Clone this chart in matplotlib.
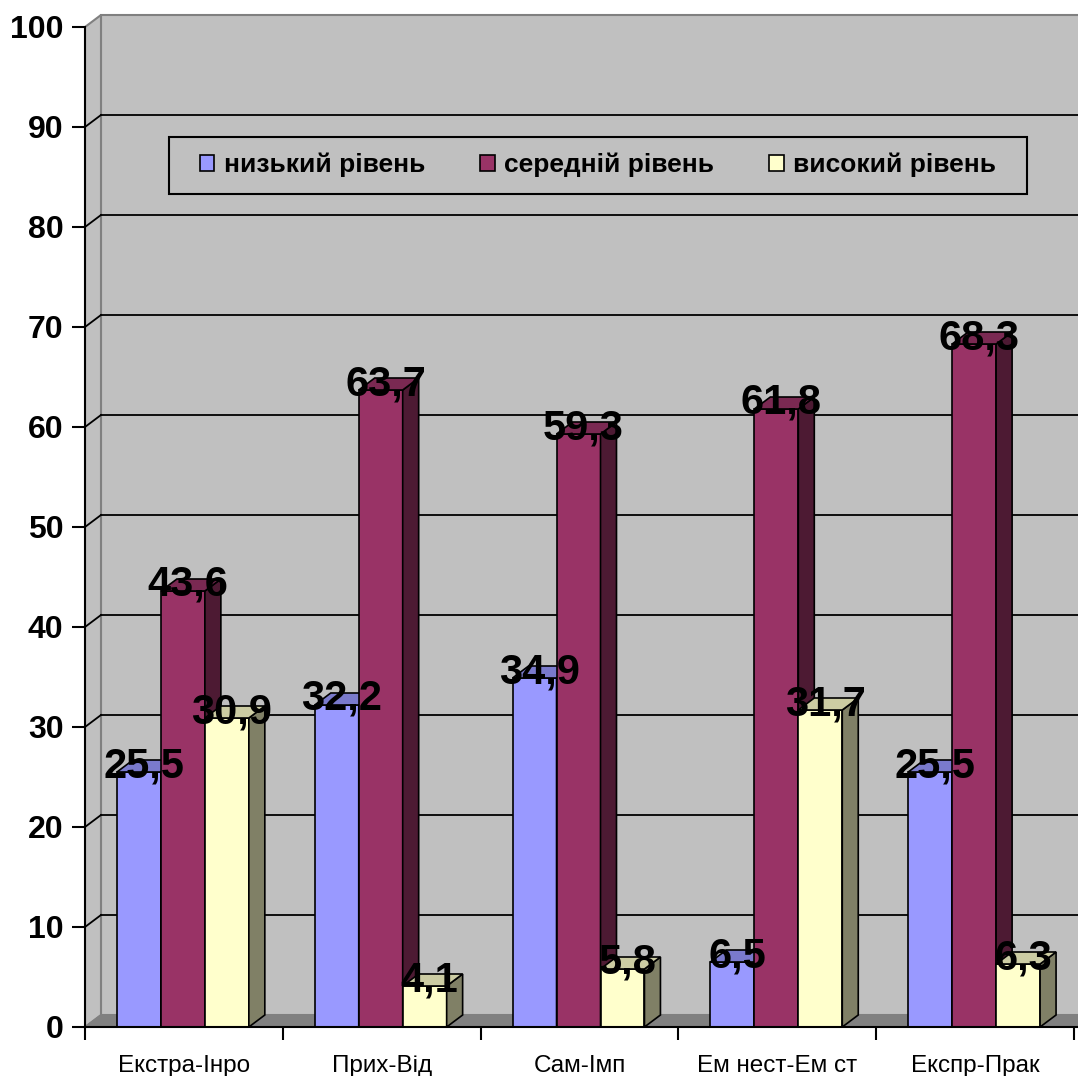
import matplotlib
matplotlib.use("Agg")
import matplotlib.pyplot as plt
from matplotlib.patches import Rectangle, Polygon, Patch
from matplotlib.colors import to_rgb

plt.rcParams["font.family"] = ["Liberation Sans", "DejaVu Sans"]

# data
categories = ["Екстра-Інро", "Прих-Від", "Сам-Імп", "Ем нест-Ем ст", "Експр-Прак"]
series_names = ["низький рівень", "середній рівень", "високий рівень"]
low = [25.5, 32.2, 34.9, 6.5, 25.5]
mid = [43.6, 63.7, 59.3, 61.8, 68.3]
high = [30.9, 4.1, 5.8, 31.7, 6.3]
colors = ["#9999FF", "#993366", "#FFFFCC"]

# pseudo-3d geometry (data units; 1 category = 1.0 on x)
DX = 16 / 198
DY = 1.2
GAP = 32 / 198
BW = 44 / 198
XMAX = 5.02
WALL = "#C0C0C0"
EDGE = "#808080"


def shade(c, f):
    r, g, b = to_rgb(c)
    return (r * f, g * f, b * f)


fig = plt.figure(figsize=(10.78, 10.76), dpi=100)
ax = fig.add_axes([85 / 1078, 49 / 1076, (1078 - 85) / 1078, 1020 / 1076])
ax.set_xlim(0, XMAX)
ax.set_ylim(0, 102)
ax.patch.set_visible(False)

# walls and floor
ax.add_patch(Rectangle((DX, DY), 6, 100, facecolor=WALL, edgecolor=EDGE, lw=1.5, zorder=0))
ax.add_patch(Polygon([(0, 0), (DX, DY), (DX, 100 + DY), (0, 100)], closed=True,
                     facecolor=WALL, edgecolor=EDGE, lw=1.5, zorder=0))
ax.add_patch(Polygon([(0, 0), (DX, DY), (6, DY), (6, 0)], closed=True,
                     facecolor=EDGE, edgecolor=EDGE, lw=1.0, zorder=0.5))

# gridlines on the back wall and side wall
for g in range(10, 100, 10):
    ax.plot([DX, 6], [g + DY, g + DY], color="black", lw=1.3, zorder=1)
    ax.plot([0, DX], [g, g + DY], color="black", lw=1.3, zorder=1)

# bars
for i in range(len(categories)):
    for j, vals in enumerate([low, mid, high]):
        v = vals[i]
        x0 = i + GAP + j * BW
        x1 = x0 + BW
        c = colors[j]
        z = 2 + i * 0.1 + j * 0.01
        ax.add_patch(Rectangle((x0, 0), BW, v, facecolor=c, edgecolor="black", lw=1.2, zorder=z))
        ax.add_patch(Polygon([(x1, 0), (x1 + DX, DY), (x1 + DX, v + DY), (x1, v)], closed=True,
                             facecolor=shade(c, 0.5), edgecolor="black", lw=1.2, zorder=z))
        ax.add_patch(Polygon([(x0, v), (x0 + DX, v + DY), (x1 + DX, v + DY), (x1, v)], closed=True,
                             facecolor=shade(c, 0.8), edgecolor="black", lw=1.2, zorder=z))
        ax.text(x0 + BW / 2 + DX * 0.3, v - 0.5, f"{v:.1f}".replace(".", ","),
                ha="center", va="baseline", fontsize=30, fontweight="bold",
                color="black", zorder=10)

# axes styling
for s in ["top", "right"]:
    ax.spines[s].set_visible(False)
ax.spines["left"].set_bounds(0, 100)
ax.spines["left"].set_linewidth(1.5)
ax.spines["bottom"].set_linewidth(1.5)
ax.spines["left"].set_zorder(3)
ax.spines["bottom"].set_zorder(3)

ax.set_yticks(range(0, 101, 10))
ax.set_yticklabels([str(t) for t in range(0, 101, 10)], fontsize=23, fontweight="bold")
ax.tick_params(axis="y", direction="out", length=9.5, width=1.5, pad=6)

ax.set_xticks(range(0, 6))
ax.set_xticklabels([])
ax.set_xticks([i + 0.5 for i in range(5)], minor=True)
ax.set_xticklabels(categories, minor=True, fontsize=17.5)
ax.tick_params(axis="x", which="major", direction="out", length=9.5, width=1.5)
ax.tick_params(axis="x", which="minor", length=0, pad=20)

# legend
handles = [Patch(facecolor=c, edgecolor="black", lw=1.2) for c in colors]
leg = fig.legend(handles, series_names, ncol=3, loc="center",
                 bbox_to_anchor=(598 / 1078, 1 - 165 / 1076), frameon=False,
                 prop={"size": 19, "weight": "bold"}, handlelength=0.55, handleheight=0.55,
                 handletextpad=0.35, columnspacing=2.1)
fig.add_artist(Rectangle((169 / 1078, 1 - 194 / 1076), 858 / 1078, 57 / 1076,
                         transform=fig.transFigure, facecolor="none", edgecolor="black", lw=1.5))

fig.savefig("out.png", dpi=100)
